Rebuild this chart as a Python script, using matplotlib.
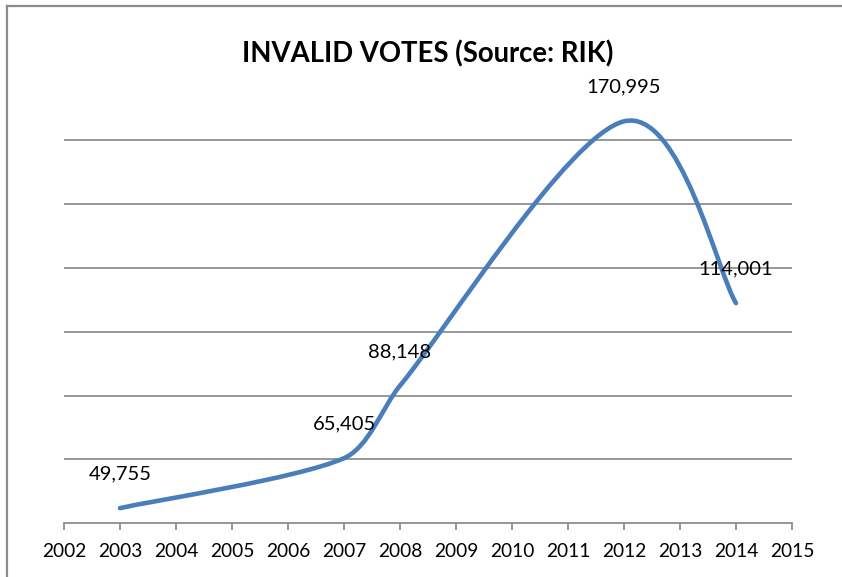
import matplotlib
matplotlib.use("Agg")
import matplotlib.pyplot as plt
from matplotlib.path import Path
from matplotlib.patches import PathPatch
from matplotlib.lines import Line2D
import numpy as np

years = [2003, 2007, 2008, 2012, 2014]
invalid_votes = [49755, 65405, 88148, 170995, 114001]
x_ticks = list(range(2002, 2016))
title = "INVALID VOTES (Source: RIK)"

plt.rcParams['font.family'] = ['Lato', 'DejaVu Sans']

W, H = 842, 577
fig = plt.figure(figsize=(W / 100, H / 100), dpi=100)
ax_left, ax_right = 64 / W, 792 / W
y_bot_px, y_top_px = 523.3, 92.6
ax = fig.add_axes([ax_left, (H - y_bot_px) / H, ax_right - ax_left, (y_bot_px - y_top_px) / H])

ax.set_xlim(2002, 2015)
ax.set_ylim(45000, 180000)

# Excel-style smoothed line: Bezier, tangent/6 with arm length capped (display space)
pts = np.column_stack([years, invalid_votes]).astype(float)
disp = ax.transData.transform(pts)
n = len(pts)
CAP = 0.3


def arm(vec_data, vec_disp, seg_len):
    L = float(np.hypot(*vec_disp)) / 6.0
    s = 1.0 / 6.0
    if L > CAP * seg_len and L > 0:
        s *= CAP * seg_len / L
    return vec_data * s


verts = [tuple(pts[0])]
codes = [Path.MOVETO]
for i in range(n - 1):
    i0 = i - 1 if i > 0 else i
    i3 = i + 2 if i + 2 < n else i + 1
    p0, p1, p2, p3 = pts[i0], pts[i], pts[i + 1], pts[i3]
    seg = float(np.hypot(*(disp[i + 1] - disp[i])))
    c1 = p1 + arm(p2 - p0, disp[i + 1] - disp[i0], seg)
    c2 = p2 - arm(p3 - p1, disp[i3] - disp[i], seg)
    verts += [tuple(c1), tuple(c2), tuple(p2)]
    codes += [Path.CURVE4] * 3
path = Path(verts, codes)
ax.add_patch(PathPatch(path, facecolor='none', edgecolor='#4A7EBB', lw=3.3,
                       capstyle='round', joinstyle='round', zorder=3, clip_on=False))

# data labels
for xv, yv in zip(years, invalid_votes):
    ax.annotate(f"{yv:,}", (xv, yv), xytext=(0, 24.5), textcoords='offset points',
                ha='center', va='center', fontsize=14.5, color='black', zorder=4)

# gridlines
ax.set_yticks(np.arange(65000, 180000, 20000))
ax.yaxis.grid(True, color='#868686', lw=1.2)
ax.set_axisbelow(True)
ax.tick_params(axis='y', left=False, labelleft=False)

ax.set_xticks(x_ticks)
ax.set_xticklabels([str(t) for t in x_ticks])
ax.tick_params(axis='x', direction='out', length=5, width=1.2, color='#868686',
               labelsize=13.8, pad=9)

for s in ['top', 'right', 'left']:
    ax.spines[s].set_visible(False)
ax.spines['bottom'].set_color('#868686')
ax.spines['bottom'].set_linewidth(1.2)
ax.patch.set_alpha(0)

fig.text(427.5 / W, 1 - 54 / H, title, ha='center', va='center',
         fontsize=19.8, fontweight='bold', color='black')

# outer frame (top and left)
fig.add_artist(Line2D([7 / W, 1], [1 - 5.5 / H, 1 - 5.5 / H], transform=fig.transFigure,
                      color='#8c8c8c', lw=1.6))
fig.add_artist(Line2D([7 / W, 7 / W], [0, 1 - 5.5 / H], transform=fig.transFigure,
                      color='#8c8c8c', lw=1.6))

fig.savefig("out.png", dpi=100)
